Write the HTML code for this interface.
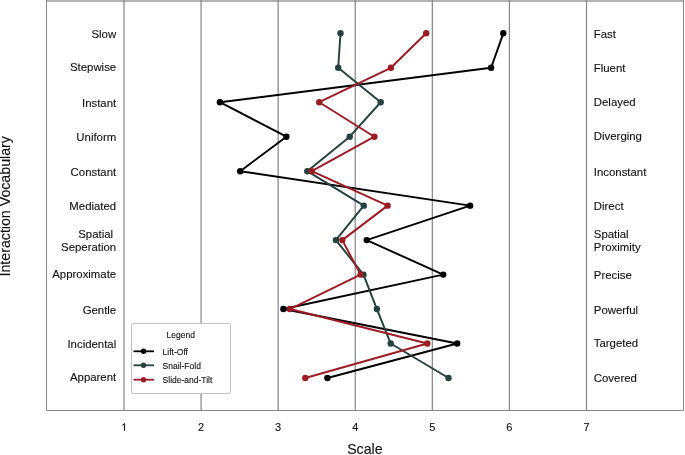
<!DOCTYPE html><html><head><meta charset="utf-8"><style>html,body{margin:0;padding:0;background:#fff;}svg{display:block;will-change:transform;}text{font-family:"Liberation Sans",sans-serif;stroke:#111;stroke-width:0.12px;}</style></head><body>
<svg width="685" height="455" viewBox="0 0 685 455">
<rect width="685" height="455" fill="#fff"/>
<rect x="46" y="0" width="638" height="2" fill="#b3b3b3"/>
<line x1="124.00" y1="0" x2="124.00" y2="410.5" stroke="#888888" stroke-width="1.25"/>
<line x1="201.08" y1="0" x2="201.08" y2="410.5" stroke="#888888" stroke-width="1.25"/>
<line x1="278.17" y1="0" x2="278.17" y2="410.5" stroke="#888888" stroke-width="1.25"/>
<line x1="355.25" y1="0" x2="355.25" y2="410.5" stroke="#888888" stroke-width="1.25"/>
<line x1="432.33" y1="0" x2="432.33" y2="410.5" stroke="#888888" stroke-width="1.25"/>
<line x1="509.42" y1="0" x2="509.42" y2="410.5" stroke="#888888" stroke-width="1.25"/>
<line x1="586.50" y1="0" x2="586.50" y2="410.5" stroke="#888888" stroke-width="1.25"/>
<path d="M46.5,0 V410.5 H683.5 V0" fill="none" stroke="#888888" stroke-width="1"/>
<text transform="translate(116.20,37.76) scale(1,1.0)" font-size="11.4" text-anchor="end" fill="#111">Slow</text>
<text transform="translate(116.20,71.23) scale(1,1.0)" font-size="11.4" text-anchor="end" fill="#111">Stepwise</text>
<text transform="translate(116.20,106.70) scale(1,1.0)" font-size="11.4" text-anchor="end" fill="#111">Instant</text>
<text transform="translate(116.20,141.17) scale(1,1.0)" font-size="11.4" text-anchor="end" fill="#111">Uniform</text>
<text transform="translate(116.20,175.64) scale(1,1.0)" font-size="11.4" text-anchor="end" fill="#111">Constant</text>
<text transform="translate(116.20,210.11) scale(1,1.0)" font-size="11.4" text-anchor="end" fill="#111">Mediated</text>
<text transform="translate(116.20,238.20) scale(1,1.0)" font-size="11.4" text-anchor="end" fill="#111">Spatial </text>
<text transform="translate(116.20,251.20) scale(1,1.0)" font-size="11.4" text-anchor="end" fill="#111">Seperation</text>
<text transform="translate(116.20,278.05) scale(1,1.0)" font-size="11.4" text-anchor="end" fill="#111">Approximate</text>
<text transform="translate(116.20,313.52) scale(1,1.0)" font-size="11.4" text-anchor="end" fill="#111">Gentle</text>
<text transform="translate(116.20,347.99) scale(1,1.0)" font-size="11.4" text-anchor="end" fill="#111">Incidental</text>
<text transform="translate(116.20,381.46) scale(1,1.0)" font-size="11.4" text-anchor="end" fill="#111">Apparent</text>
<text transform="translate(593.80,37.76) scale(1,1.0)" font-size="11.4" text-anchor="start" fill="#111">Fast</text>
<text transform="translate(593.80,72.23) scale(1,1.0)" font-size="11.4" text-anchor="start" fill="#111">Fluent</text>
<text transform="translate(593.80,105.70) scale(1,1.0)" font-size="11.4" text-anchor="start" fill="#111">Delayed</text>
<text transform="translate(593.80,140.17) scale(1,1.0)" font-size="11.4" text-anchor="start" fill="#111">Diverging</text>
<text transform="translate(593.80,175.64) scale(1,1.0)" font-size="11.4" text-anchor="start" fill="#111">Inconstant</text>
<text transform="translate(593.80,210.11) scale(1,1.0)" font-size="11.4" text-anchor="start" fill="#111">Direct</text>
<text transform="translate(593.80,238.20) scale(1,1.0)" font-size="11.4" text-anchor="start" fill="#111">Spatial</text>
<text transform="translate(593.80,251.20) scale(1,1.0)" font-size="11.4" text-anchor="start" fill="#111">Proximity</text>
<text transform="translate(593.80,279.05) scale(1,1.0)" font-size="11.4" text-anchor="start" fill="#111">Precise</text>
<text transform="translate(593.80,313.52) scale(1,1.0)" font-size="11.4" text-anchor="start" fill="#111">Powerful</text>
<text transform="translate(593.80,346.99) scale(1,1.0)" font-size="11.4" text-anchor="start" fill="#111">Targeted</text>
<text transform="translate(593.80,382.46) scale(1,1.0)" font-size="11.4" text-anchor="start" fill="#111">Covered</text>
<polyline points="503.3,33.30 491.1,67.77 219.9,102.24 286.4,136.71 240.2,171.18 470.1,205.65 366.7,240.12 443.2,274.59 283.4,309.06 457.2,343.53 327.4,378.00" fill="none" stroke="#000000" stroke-width="1.95" stroke-linejoin="round"/><circle cx="503.3" cy="33.30" r="3.2" fill="#000000"/><circle cx="491.1" cy="67.77" r="3.2" fill="#000000"/><circle cx="219.9" cy="102.24" r="3.2" fill="#000000"/><circle cx="286.4" cy="136.71" r="3.2" fill="#000000"/><circle cx="240.2" cy="171.18" r="3.2" fill="#000000"/><circle cx="470.1" cy="205.65" r="3.2" fill="#000000"/><circle cx="366.7" cy="240.12" r="3.2" fill="#000000"/><circle cx="443.2" cy="274.59" r="3.2" fill="#000000"/><circle cx="283.4" cy="309.06" r="3.2" fill="#000000"/><circle cx="457.2" cy="343.53" r="3.2" fill="#000000"/><circle cx="327.4" cy="378.00" r="3.2" fill="#000000"/>
<polyline points="340.5,33.30 338.2,67.77 380.7,102.24 349.7,136.71 307.3,171.18 363.8,205.65 335.9,240.12 363.5,274.59 376.9,309.06 390.7,343.53 448.5,378.00" fill="none" stroke="#254140" stroke-width="1.95" stroke-linejoin="round"/><circle cx="340.5" cy="33.30" r="3.2" fill="#254140"/><circle cx="338.2" cy="67.77" r="3.2" fill="#254140"/><circle cx="380.7" cy="102.24" r="3.2" fill="#254140"/><circle cx="349.7" cy="136.71" r="3.2" fill="#254140"/><circle cx="307.3" cy="171.18" r="3.2" fill="#254140"/><circle cx="363.8" cy="205.65" r="3.2" fill="#254140"/><circle cx="335.9" cy="240.12" r="3.2" fill="#254140"/><circle cx="363.5" cy="274.59" r="3.2" fill="#254140"/><circle cx="376.9" cy="309.06" r="3.2" fill="#254140"/><circle cx="390.7" cy="343.53" r="3.2" fill="#254140"/><circle cx="448.5" cy="378.00" r="3.2" fill="#254140"/>
<polyline points="426.2,33.30 390.9,67.77 319.2,102.24 374.4,136.71 311.8,171.18 387.6,205.65 342.3,240.12 360.6,274.59 289.9,309.06 427.3,343.53 305.3,378.00" fill="none" stroke="#9c1c24" stroke-width="1.95" stroke-linejoin="round"/><circle cx="426.2" cy="33.30" r="3.2" fill="#9c1c24"/><circle cx="390.9" cy="67.77" r="3.2" fill="#9c1c24"/><circle cx="319.2" cy="102.24" r="3.2" fill="#9c1c24"/><circle cx="374.4" cy="136.71" r="3.2" fill="#9c1c24"/><circle cx="311.8" cy="171.18" r="3.2" fill="#9c1c24"/><circle cx="387.6" cy="205.65" r="3.2" fill="#9c1c24"/><circle cx="342.3" cy="240.12" r="3.2" fill="#9c1c24"/><circle cx="360.6" cy="274.59" r="3.2" fill="#9c1c24"/><circle cx="289.9" cy="309.06" r="3.2" fill="#9c1c24"/><circle cx="427.3" cy="343.53" r="3.2" fill="#9c1c24"/><circle cx="305.3" cy="378.00" r="3.2" fill="#9c1c24"/>
<path transform="translate(121.291,430.8) scale(0.005371,-0.005371)" d="M515,0 L515,1180 C430,1080 300,980 197,935 L197,1090 C330,1160 450,1280 540,1409 L696,1409 L696,0 Z" fill="#111" stroke="#111" stroke-width="22"/>
<text transform="translate(201.08,430.80) scale(1,1.0)" font-size="11" text-anchor="middle" fill="#111">2</text>
<text transform="translate(278.17,430.80) scale(1,1.0)" font-size="11" text-anchor="middle" fill="#111">3</text>
<text transform="translate(355.25,430.80) scale(1,1.0)" font-size="11" text-anchor="middle" fill="#111">4</text>
<text transform="translate(432.33,430.80) scale(1,1.0)" font-size="11" text-anchor="middle" fill="#111">5</text>
<text transform="translate(509.42,430.80) scale(1,1.0)" font-size="11" text-anchor="middle" fill="#111">6</text>
<text transform="translate(586.50,430.80) scale(1,1.0)" font-size="11" text-anchor="middle" fill="#111">7</text>
<text transform="translate(364.90,453.80) scale(1,1.0)" font-size="14.2" text-anchor="middle" fill="#111">Scale</text>
<text transform="translate(9.9,206.3) rotate(-90)" font-size="14.2" text-anchor="middle" fill="#111">Interaction Vocabulary</text>
<rect x="131.5" y="323.5" width="99" height="70" rx="1.5" fill="#fff" stroke="#c2c2c2" stroke-width="1"/>
<text transform="translate(180.70,338.20) scale(1,1.0)" font-size="8.5" text-anchor="middle" fill="#111">Legend</text>
<line x1="133.5" y1="351.3" x2="154" y2="351.3" stroke="#000000" stroke-width="1.8"/>
<circle cx="143.5" cy="351.3" r="2.7" fill="#000000"/>
<text transform="translate(162.60,354.80) scale(1,1.0)" font-size="8.5" text-anchor="start" fill="#111">Lift-Off</text>
<line x1="133.5" y1="365.3" x2="154" y2="365.3" stroke="#254140" stroke-width="1.8"/>
<circle cx="143.5" cy="365.3" r="2.7" fill="#254140"/>
<text transform="translate(162.60,368.80) scale(1,1.0)" font-size="8.5" text-anchor="start" fill="#111">Snail-Fold</text>
<line x1="133.5" y1="379.7" x2="154" y2="379.7" stroke="#9c1c24" stroke-width="1.8"/>
<circle cx="143.5" cy="379.7" r="2.7" fill="#9c1c24"/>
<text transform="translate(162.60,383.20) scale(1,1.0)" font-size="8.5" text-anchor="start" fill="#111">Slide-and-Tilt</text>
</svg></body></html>
